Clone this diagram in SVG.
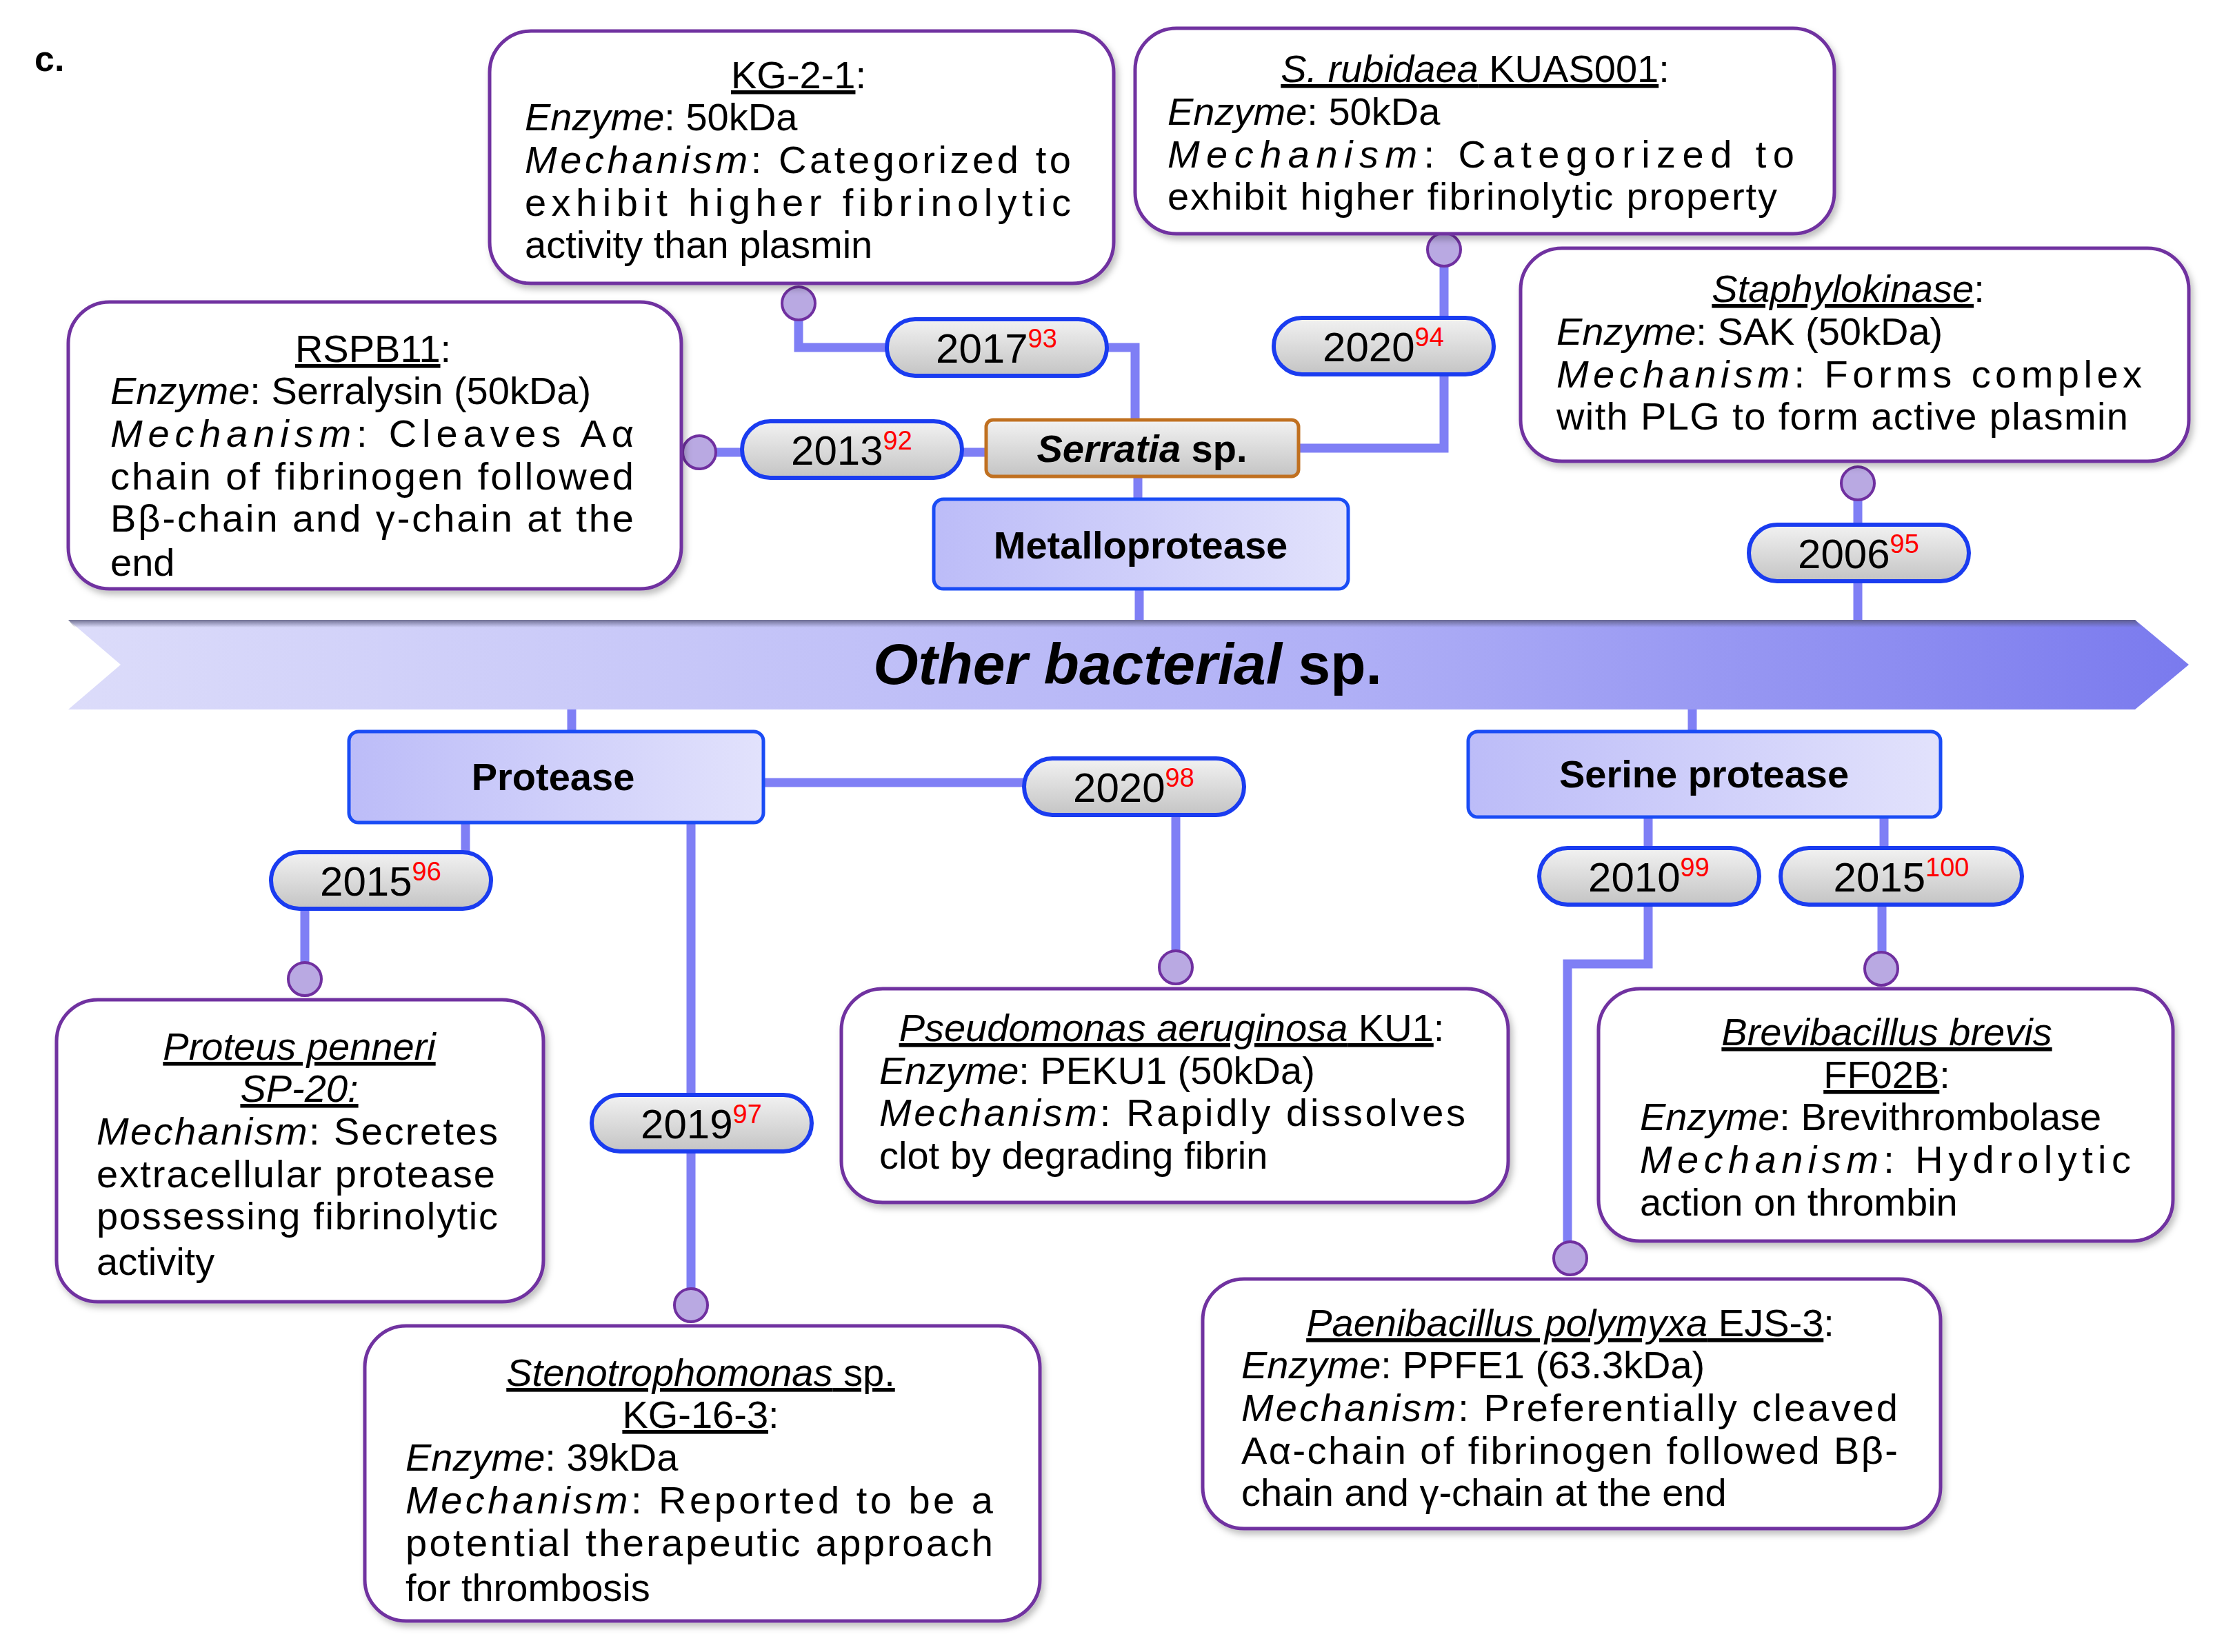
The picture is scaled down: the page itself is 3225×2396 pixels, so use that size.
<svg xmlns="http://www.w3.org/2000/svg" width="3225" height="2396" viewBox="0 0 3225 2396">
<defs>
<style>
text{font-family:"Liberation Sans",Arial,sans-serif;fill:#000}
.box{fill:#fff;stroke:#7030a0;stroke-width:5;filter:url(#sh)}
.t{font-size:56px}
.u{text-decoration:underline}
.i{font-style:italic}
.pill{fill:url(#gp);stroke:#1a3cf0;stroke-width:6}
.yr{font-size:60px;text-anchor:middle}
.sup{fill:#ff0000;font-size:38px}
.cat{fill:url(#gc);stroke:#1a4cf5;stroke-width:5}
.ct{font-size:56px;font-weight:bold;text-anchor:middle}
.con{fill:none;stroke:#7f7ff5;stroke-width:13}
.dot{fill:#b9a9e2;stroke:#7030a0;stroke-width:4}
</style>
<filter id="sh" x="-5%" y="-5%" width="110%" height="115%"><feDropShadow dx="4" dy="6" stdDeviation="5" flood-color="#000" flood-opacity="0.25"/></filter>
<linearGradient id="gp" x1="0" y1="0" x2="0" y2="1"><stop offset="0" stop-color="#f2f2f2"/><stop offset="1" stop-color="#c4c4c4"/></linearGradient>
<linearGradient id="gc" x1="0" y1="0" x2="1" y2="0"><stop offset="0" stop-color="#bcbcf8"/><stop offset="1" stop-color="#e2e2fc"/></linearGradient>
<linearGradient id="gb" x1="0" y1="0" x2="1" y2="0"><stop offset="0" stop-color="#dcdcfa"/><stop offset="0.6" stop-color="#b0b0f6"/><stop offset="1" stop-color="#7a7aee"/></linearGradient>
<linearGradient id="gtop" x1="0" y1="0" x2="0" y2="1"><stop offset="0" stop-color="#555577" stop-opacity="0.8"/><stop offset="1" stop-color="#555577" stop-opacity="0"/></linearGradient>
</defs>
<rect width="3225" height="2396" fill="#fff"/>
<text x="50" y="103" style="font-size:52px;font-weight:bold">c.</text>

<g id="connectors">
<path class="con" d="M1158,452 V504 H1290"/>
<path class="con" d="M1600,504 H1646 V612"/>
<path class="con" d="M1650,688 V727"/>
<path class="con" d="M1652,851 V905"/>
<path class="con" d="M1026,656 H1080"/>
<path class="con" d="M1392,656 H1433"/>
<path class="con" d="M2094,374 V464"/>
<path class="con" d="M2094,540 V650 H1880"/>
<path class="con" d="M2694,713 V764"/>
<path class="con" d="M2694,840 V905"/>
<path class="con" d="M829,1025 V1064"/>
<path class="con" d="M2454,1025 V1064"/>
<path class="con" d="M675,1190 V1240"/>
<path class="con" d="M442,1315 V1408"/>
<path class="con" d="M1104,1135 H1488"/>
<path class="con" d="M1705,1179 V1391"/>
<path class="con" d="M1002,1190 V1592"/>
<path class="con" d="M1002,1667 V1880"/>
<path class="con" d="M2390,1182 V1233"/>
<path class="con" d="M2390,1309 V1398 H2273 V1812"/>
<path class="con" d="M2732,1182 V1233"/>
<path class="con" d="M2729,1309 V1393"/>
</g>

<g id="banner">
<polygon points="99,899 3096,899 3174,964 3096,1029 99,1029 175,964" fill="url(#gb)"/>
<polygon points="99,899 3096,899 3106,910 108,910" fill="url(#gtop)"/>
<text x="1635" y="992" style="font-size:84px;font-weight:bold;text-anchor:middle"><tspan class="i">Other bacterial</tspan> sp.</text>
</g>

<g id="dots">
<circle class="dot" cx="1158" cy="440" r="24"/>
<circle class="dot" cx="1014" cy="656" r="24"/>
<circle class="dot" cx="2094" cy="362" r="24"/>
<circle class="dot" cx="2694" cy="701" r="24"/>
<circle class="dot" cx="442" cy="1420" r="24"/>
<circle class="dot" cx="1705" cy="1403" r="24"/>
<circle class="dot" cx="1002" cy="1893" r="24"/>
<circle class="dot" cx="2277" cy="1825" r="24"/>
<circle class="dot" cx="2728" cy="1405" r="24"/>
</g>

<g id="serratia"><rect x="1430" y="609" width="453" height="82" rx="10" fill="url(#gp)" stroke="#c07020" stroke-width="5"/><text class="ct" x="1656" y="670"><tspan class="i">Serratia</tspan> sp.</text></g>
<g id="metalloprotease"><rect class="cat" x="1354" y="724" width="601" height="130" rx="14"/><text class="ct" x="1654" y="810">Metalloprotease</text></g>
<g id="protease"><rect class="cat" x="506" y="1061" width="601" height="132" rx="14"/><text class="ct" x="802" y="1146">Protease</text></g>
<g id="serine"><rect class="cat" x="2129" y="1061" width="685" height="124" rx="14"/><text class="ct" x="2471" y="1142">Serine protease</text></g>

<g id="y2017"><rect class="pill" x="1286" y="463" width="319" height="82" rx="41"/><text class="yr" x="1445" y="526">2017<tspan class="sup" dy="-22">93</tspan></text></g>
<g id="y2013"><rect class="pill" x="1076" y="611" width="319" height="82" rx="41"/><text class="yr" x="1235" y="674">2013<tspan class="sup" dy="-22">92</tspan></text></g>
<g id="y2020a"><rect class="pill" x="1847" y="461" width="319" height="82" rx="41"/><text class="yr" x="2006" y="524">2020<tspan class="sup" dy="-22">94</tspan></text></g>
<g id="y2006"><rect class="pill" x="2536" y="761" width="319" height="82" rx="41"/><text class="yr" x="2695" y="824">2006<tspan class="sup" dy="-22">95</tspan></text></g>
<g id="y2015a"><rect class="pill" x="393" y="1236" width="319" height="82" rx="41"/><text class="yr" x="552" y="1299">2015<tspan class="sup" dy="-22">96</tspan></text></g>
<g id="y2020b"><rect class="pill" x="1485" y="1100" width="319" height="82" rx="41"/><text class="yr" x="1644" y="1163">2020<tspan class="sup" dy="-22">98</tspan></text></g>
<g id="y2019"><rect class="pill" x="858" y="1588" width="319" height="82" rx="41"/><text class="yr" x="1017" y="1651">2019<tspan class="sup" dy="-22">97</tspan></text></g>
<g id="y2010"><rect class="pill" x="2232" y="1230" width="319" height="82" rx="41"/><text class="yr" x="2391" y="1293">2010<tspan class="sup" dy="-22">99</tspan></text></g>
<g id="y2015b"><rect class="pill" x="2582" y="1230" width="350" height="82" rx="41"/><text class="yr" x="2757" y="1293">2015<tspan class="sup" dy="-22">100</tspan></text></g>

<g id="kg21"><rect class="box" x="710" y="45" width="905" height="366" rx="60"/>
<text class="t" x="1158" y="128" text-anchor="middle"><tspan class="u">KG-2-1</tspan>:</text>
<text class="t" x="761" y="189"><tspan class="i">Enzyme</tspan>:  50kDa</text>
<text class="t" x="761" y="251" textLength="792" lengthAdjust="spacing"><tspan class="i">Mechanism</tspan>: Categorized to</text>
<text class="t" x="761" y="313" textLength="792" lengthAdjust="spacing">exhibit higher fibrinolytic</text>
<text class="t" x="761" y="374">activity than plasmin</text></g>

<g id="srub"><rect class="box" x="1646" y="41" width="1014" height="298" rx="60"/>
<text class="t" x="2139" y="119" text-anchor="middle"><tspan class="u"><tspan class="i">S. rubidaea</tspan> KUAS001</tspan>:</text>
<text class="t" x="1693" y="181"><tspan class="i">Enzyme</tspan>:  50kDa</text>
<text class="t" x="1693" y="243" textLength="909" lengthAdjust="spacing"><tspan class="i">Mechanism</tspan>: Categorized to</text>
<text class="t" x="1693" y="304" textLength="884" lengthAdjust="spacing">exhibit  higher fibrinolytic property</text></g>

<g id="rspb11"><rect class="box" x="99" y="438" width="889" height="416" rx="60"/>
<text class="t" x="541" y="525" text-anchor="middle"><tspan class="u">RSPB11</tspan>:</text>
<text class="t" x="160" y="586"><tspan class="i">Enzyme</tspan>: Serralysin (50kDa)</text>
<text class="t" x="160" y="648" textLength="759" lengthAdjust="spacing"><tspan class="i">Mechanism</tspan>: Cleaves Aα</text>
<text class="t" x="160" y="710" textLength="759" lengthAdjust="spacing">chain of fibrinogen followed</text>
<text class="t" x="160" y="771" textLength="759" lengthAdjust="spacing">Bβ-chain and γ-chain at the</text>
<text class="t" x="160" y="835">end</text></g>

<g id="staph"><rect class="box" x="2205" y="360" width="969" height="309" rx="60"/>
<text class="t" x="2680" y="438" text-anchor="middle"><tspan class="u i">Staphylokinase</tspan>:</text>
<text class="t" x="2257" y="500"><tspan class="i">Enzyme</tspan>: SAK (50kDa)</text>
<text class="t" x="2257" y="562" textLength="849" lengthAdjust="spacing"><tspan class="i">Mechanism</tspan>: Forms complex</text>
<text class="t" x="2257" y="623" textLength="829" lengthAdjust="spacing">with PLG to form active plasmin</text></g>

<g id="proteus"><rect class="box" x="82" y="1450" width="706" height="438" rx="60"/>
<text class="t" x="434" y="1537" text-anchor="middle"><tspan class="u i">Proteus penneri</tspan></text>
<text class="t" x="434" y="1598" text-anchor="middle"><tspan class="u i">SP-20:</tspan></text>
<text class="t" x="140" y="1660" textLength="582" lengthAdjust="spacing"><tspan class="i">Mechanism</tspan>: Secretes</text>
<text class="t" x="140" y="1722" textLength="578" lengthAdjust="spacing">extracellular protease</text>
<text class="t" x="140" y="1783" textLength="582" lengthAdjust="spacing">possessing fibrinolytic</text>
<text class="t" x="140" y="1849">activity</text></g>

<g id="steno"><rect class="box" x="529" y="1923" width="979" height="428" rx="60"/>
<text class="t" x="1016" y="2010" text-anchor="middle"><tspan class="u"><tspan class="i">Stenotrophomonas</tspan> sp.</tspan></text>
<text class="t" x="1016" y="2071" text-anchor="middle"><tspan class="u">KG-16-3</tspan>:</text>
<text class="t" x="588" y="2133"><tspan class="i">Enzyme</tspan>: 39kDa</text>
<text class="t" x="588" y="2195" textLength="852" lengthAdjust="spacing"><tspan class="i">Mechanism</tspan>: Reported to be a</text>
<text class="t" x="588" y="2257" textLength="852" lengthAdjust="spacing">potential therapeutic approach</text>
<text class="t" x="588" y="2322">for thrombosis</text></g>

<g id="pseudo"><rect class="box" x="1220" y="1434" width="967" height="310" rx="60"/>
<text class="t" x="1699" y="1510" text-anchor="middle"><tspan class="u"><tspan class="i">Pseudomonas aeruginosa</tspan> KU1</tspan>:</text>
<text class="t" x="1275" y="1572"><tspan class="i">Enzyme</tspan>: PEKU1 (50kDa)</text>
<text class="t" x="1275" y="1633" textLength="850" lengthAdjust="spacing"><tspan class="i">Mechanism</tspan>: Rapidly dissolves</text>
<text class="t" x="1275" y="1695">clot by degrading fibrin</text></g>

<g id="paeni"><rect class="box" x="1744" y="1855" width="1070" height="362" rx="60"/>
<text class="t" x="2277" y="1938" text-anchor="middle"><tspan class="u"><tspan class="i">Paenibacillus polymyxa</tspan> EJS-3</tspan>:</text>
<text class="t" x="1800" y="1999"><tspan class="i">Enzyme</tspan>: PPFE1 (63.3kDa)</text>
<text class="t" x="1800" y="2061" textLength="952" lengthAdjust="spacing"><tspan class="i">Mechanism</tspan>: Preferentially cleaved</text>
<text class="t" x="1800" y="2123" textLength="952" lengthAdjust="spacing">Aα-chain of fibrinogen followed Bβ-</text>
<text class="t" x="1800" y="2184">chain and γ-chain at the end</text></g>

<g id="brevi"><rect class="box" x="2318" y="1434" width="833" height="366" rx="60"/>
<text class="t" x="2736" y="1516" text-anchor="middle"><tspan class="u i">Brevibacillus brevis</tspan></text>
<text class="t" x="2736" y="1578" text-anchor="middle"><tspan class="u">FF02B</tspan>:</text>
<text class="t" x="2378" y="1639"><tspan class="i">Enzyme</tspan>: Brevithrombolase</text>
<text class="t" x="2378" y="1701" textLength="712" lengthAdjust="spacing"><tspan class="i">Mechanism</tspan>: Hydrolytic</text>
<text class="t" x="2378" y="1763">action on thrombin</text></g>
</svg>
